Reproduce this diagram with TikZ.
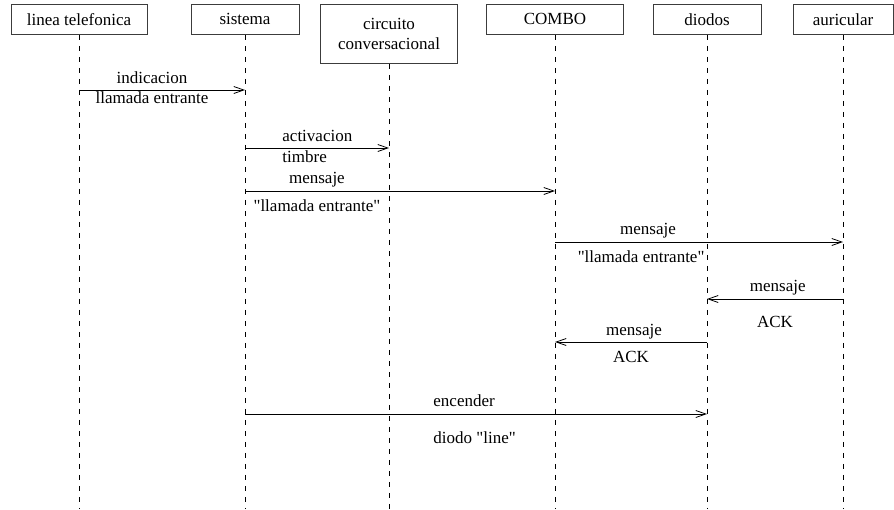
\documentclass[tikz,border=0pt]{standalone}
\usepackage{fontspec}
\setmainfont{Liberation Serif}
\usepackage{tikz}
\usetikzlibrary{arrows.meta,positioning}
\definecolor{boxline}{RGB}{60,60,60}

\begin{document}
\begin{tikzpicture}[
  x=1pt, y=1pt,
  font=\fontsize{17pt}{20pt}\selectfont,
  actor/.style={
    rectangle, draw=boxline, line width=0.9pt,
    anchor=north, align=center,
    minimum height=30pt, inner sep=2pt
  },
  lifeline/.style={draw=black, line width=0.8pt, dash pattern=on 5pt off 6pt},
  msg/.style={-{Straight Barb[length=10pt,width=7pt]}, line width=0.8pt},
  lbl/.style={anchor=base, inner sep=0pt}
]
\useasboundingbox (0,0) rectangle (894,-509);

% actors
\node[actor, minimum width=136pt] (linea) at (79,-4) {linea telefonica};
\node[actor, minimum width=108pt] (sistema) at (245,-4) {sistema};
\node[actor, minimum width=137pt, minimum height=59pt] (circuito) at (389,-4)
  {circuito\\conversacional};
\node[actor, minimum width=137pt] (combo) at (555,-4) {COMBO};
\node[actor, minimum width=108pt] (diodos) at (707,-4) {diodos};
\node[actor, minimum width=100pt] (auricular) at (843,-4) {auricular};

% lifelines
\coordinate (bottom) at (0,-509);
\foreach \a in {linea,sistema,circuito,combo,diodos,auricular}
  \draw[lifeline] (\a.south) -- (\a |- bottom);

% message rows
\coordinate (r1) at (0,-90);
\coordinate (r2) at (0,-148);
\coordinate (r3) at (0,-191);
\coordinate (r4) at (0,-242);
\coordinate (r5) at (0,-299);
\coordinate (r6) at (0,-342);
\coordinate (r7) at (0,-414);

\draw[msg] (linea |- r1) -- (sistema |- r1)
  node[lbl, pos=0.44, yshift=7pt] {indicacion}
  node[lbl, pos=0.44, yshift=-13pt] {llamada entrante};

\draw[msg] (sistema |- r2) -- (circuito |- r2)
  node[lbl, pos=0.257, anchor=base west, yshift=7pt] {activacion}
  node[lbl, pos=0.257, anchor=base west, yshift=-14pt] {timbre};

\draw[msg] (sistema |- r3) -- (combo |- r3)
  node[lbl, pos=0.232, yshift=7.5pt] {mensaje}
  node[lbl, pos=0.232, yshift=-20.5pt] {\textquotedbl llamada entrante\textquotedbl};

\draw[msg] (combo |- r4) -- (auricular |- r4)
  node[lbl, pos=0.323, yshift=8pt] {mensaje}
  node[lbl, pos=0.299, yshift=-20.5pt] {\textquotedbl llamada entrante\textquotedbl};

\draw[msg] (auricular |- r5) -- (diodos |- r5)
  node[lbl, pos=0.48, yshift=7.5pt] {mensaje}
  node[lbl, pos=0.50, yshift=-28pt] {ACK};

\draw[msg] (diodos |- r6) -- (combo |- r6)
  node[lbl, pos=0.48, yshift=7pt] {mensaje}
  node[lbl, pos=0.50, yshift=-20.5pt] {ACK};

\draw[msg] (sistema |- r7) -- (diodos |- r7)
  node[lbl, pos=0.407, anchor=base west, yshift=7.5pt] {encender}
  node[lbl, pos=0.407, anchor=base west, yshift=-29pt] {diodo \textquotedbl line\textquotedbl};

\end{tikzpicture}
\end{document}
